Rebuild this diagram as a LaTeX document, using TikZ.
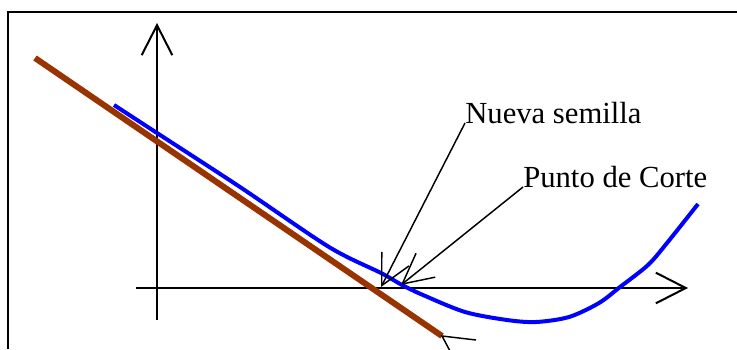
\documentclass[tikz,border=0pt]{standalone}
\usepackage{fontspec}
\setmainfont{Liberation Serif}
\usepackage{tikz}
\usetikzlibrary{arrows.meta}

\definecolor{tanbrown}{RGB}{153,51,0}

\begin{document}
\begin{tikzpicture}[
  x=0.75pt, y=-0.75pt,
  font=\fontsize{23}{27}\selectfont,
  tip/.style={-{Straight Barb[length=22.5pt, width=23pt]}},
  axis/.style={tip, draw=black, line width=1.5pt},
  flecha/.style={tip, draw=black, line width=1.1pt},
  lbl/.style={anchor=base west, inner sep=0pt},
  curva/.style={draw=blue, line width=3pt, line join=round},
  tangente/.style={draw=tanbrown, line width=4.5pt}]
  \useasboundingbox (0,0) rectangle (737,349);
  % marco
  \draw[line width=1pt] (8,349) -- (8,12) -- (737,12);
  % ejes
  \coordinate (o)  at (157,288);
  \coordinate (yb) at (157,320);
  \coordinate (yt) at (157,23);
  \coordinate (xl) at (136,288);
  \coordinate (xr) at (688,288);
  \draw[axis] (yb) -- (yt);
  \draw[axis] (xl) -- (xr);
  % funcion
  \draw[curva] plot[smooth, tension=0.5] coordinates {
    (114,105) (157,133) (240,187) (329,247) (381,273) (402,285)
    (423,295) (465,312) (507,320) (536,322) (569,317) (599,303)
    (620,287) (648,265) (667,243) (698,204)};
  % recta tangente
  \coordinate (t1) at (35,58);
  \coordinate (t2) at (442,336);
  \draw[tangente] (t1) -- (t2);
  \draw[line width=1.1pt] (476,340) -- (t2) -- (458,366);
  % etiquetas
  \coordinate (semilla tip) at (381,287);
  \coordinate (corte tip)   at (401,285);
  \node[lbl] (semilla) at (465,123) {Nueva semilla};
  \node[lbl] (corte)   at (523,187) {Punto de Corte};
  \draw[flecha] (semilla.base west) -- (semilla tip);
  \draw[flecha] (corte.base west) -- (corte tip);
\end{tikzpicture}
\end{document}
